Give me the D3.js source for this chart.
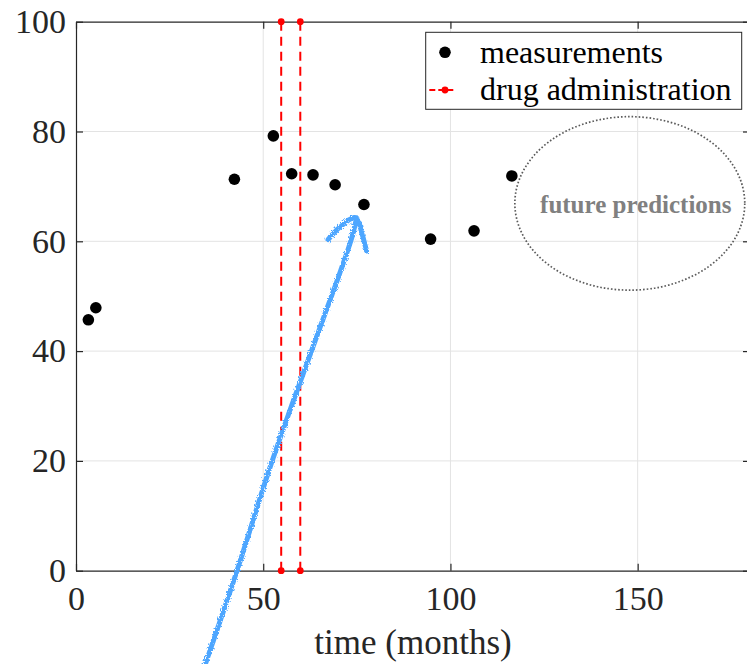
<!DOCTYPE html>
<html>
<head>
<meta charset="utf-8">
<script src="https://cdn.jsdelivr.net/npm/d3@7"></script>
<style>
  html, body { margin: 0; padding: 0; background: #fff; }
  svg text { font-family: "Liberation Serif", "Times New Roman", serif; fill: #262626; }
</style>
</head>
<body>
<div id="corpo"></div>
<script>
// measured values (months, score)
var measMonths = [3.3, 5.3, 42.3, 52.7, 57.6, 63.3, 69.2, 76.9, 94.7, 106.3, 116.4];
var measValues = [45.7, 47.9, 71.3, 79.2, 72.3, 72.1, 70.3, 66.7, 60.4, 61.9, 71.9];

// drug administration times
var drugMonths = [54.8, 59.9];

var xTicks = [0, 50, 100, 150];
var yTicks = [0, 20, 40, 60, 80, 100];

// hand drawn arrow (data coords)
var arrowShaft = [[34.3, -17.5], [43, 0], [52.4, 20], [64.9, 43.8], [70.6, 54.5], [73.8, 61], [74.9, 64.2]];
var arrowHead = [[67.3, 60.3], [70.5, 62.6], [74.7, 64.3], [76.4, 61.3], [77.6, 58.2]];

// "future predictions" ellipse
var ellipseCenter = [147.9, 66.9];
var ellipseRadius = [30.7, 15.8];

var width = 747, height = 664;
var svg = d3.select("#corpo").append("svg")
  .attr("width", width)
  .attr("height", height);

var x = d3.scaleLinear().domain([0, 180]).range([76, 750]);
var y = d3.scaleLinear().domain([0, 100]).range([570.7, 21.7]);

var axisColor = "#262626";
var tickFont = 34,   // tick labels
    labelFont = 35,  // axis label
    legFont = 32;    // legend

/* grid */
var grid = svg.append("g");
grid.selectAll(".gx").data(xTicks.slice(1)).enter().append("line")
  .attr("x1", function(d) { return x(d); }).attr("x2", function(d) { return x(d); })
  .attr("y1", y(0)).attr("y2", y(100))
  .attr("stroke", "#e3e3e3").attr("stroke-width", 1);
grid.selectAll(".gy").data(yTicks.slice(1, -1)).enter().append("line")
  .attr("x1", x(0)).attr("x2", x(180))
  .attr("y1", function(d) { return y(d); }).attr("y2", function(d) { return y(d); })
  .attr("stroke", "#e3e3e3").attr("stroke-width", 1);

/* axes (box with inward ticks) */
var xAxis = svg.append("g")
  .attr("transform", "translate(0," + y(0) + ")")
  .call(d3.axisBottom(x).tickValues(xTicks).tickSizeInner(-7).tickSizeOuter(0).tickPadding(16));
var xTop = svg.append("g")
  .attr("transform", "translate(0," + y(100) + ")")
  .call(d3.axisTop(x).tickValues(xTicks).tickSizeInner(-7).tickSizeOuter(0).tickFormat(""));
var yAxis = svg.append("g")
  .attr("transform", "translate(" + x(0) + ",0)")
  .call(d3.axisLeft(y).tickValues(yTicks).tickSizeInner(-7).tickSizeOuter(0).tickPadding(10));
var yRight = svg.append("g")
  .attr("transform", "translate(" + x(180) + ",0)")
  .call(d3.axisRight(y).tickValues(yTicks).tickSizeInner(-7).tickSizeOuter(0).tickFormat(""));

[xAxis, xTop, yAxis, yRight].forEach(function(a) {
  a.select(".domain").attr("stroke", axisColor).attr("stroke-width", 1.2);
  a.selectAll(".tick line").attr("stroke", axisColor).attr("stroke-width", 1.2);
  a.selectAll(".tick text")
    .attr("fill", axisColor)
    .style("font-size", tickFont + "px")
    .style("font-family", "'Liberation Serif', 'Times New Roman', serif");
});
xAxis.selectAll(".tick text").attr("dy", "0.68em");

svg.append("text")
  .attr("x", x(90))
  .attr("y", 654)
  .attr("text-anchor", "middle")
  .style("font-size", labelFont + "px")
  .text("time (months)");

/* drug administration lines */
var drug = svg.append("g");
drug.selectAll("line").data(drugMonths).enter().append("line")
  .attr("x1", function(d) { return x(d); }).attr("x2", function(d) { return x(d); })
  .attr("y1", y(0)).attr("y2", y(100))
  .attr("stroke", "#ff0000").attr("stroke-width", 2)
  .attr("stroke-dasharray", "9,6");
drugMonths.forEach(function(m) {
  [0, 100].forEach(function(v) {
    drug.append("circle").attr("cx", x(m)).attr("cy", y(v)).attr("r", 3.4).attr("fill", "#ff0000");
  });
});

/* measurements */
svg.append("g").selectAll("circle").data(measMonths).enter().append("circle")
  .attr("cx", function(d) { return x(d); })
  .attr("cy", function(d, i) { return y(measValues[i]); })
  .attr("r", 5.8)
  .attr("fill", "#000");

/* ellipse annotation */
svg.append("ellipse")
  .attr("cx", x(ellipseCenter[0])).attr("cy", y(ellipseCenter[1]))
  .attr("rx", x(ellipseRadius[0]) - x(0)).attr("ry", y(0) - y(ellipseRadius[1]))
  .attr("fill", "none").attr("stroke", "#5a5a5a").attr("stroke-width", 1.7)
  .attr("stroke-dasharray", "1.6,2");
svg.append("text")
  .attr("x", x(ellipseCenter[0]) + 6)
  .attr("y", 213.3)
  .attr("text-anchor", "middle")
  .attr("font-weight", "bold")
  .style("font-size", "25px")
  .style("fill", "#808080")
  .text("future predictions");

/* hand drawn arrow */
var defs = svg.append("defs");
var rough = defs.append("filter").attr("id", "rough")
  .attr("x", "-20%").attr("y", "-20%").attr("width", "140%").attr("height", "140%");
rough.append("feTurbulence").attr("type", "fractalNoise").attr("baseFrequency", 0.7).attr("numOctaves", 2).attr("result", "n");
rough.append("feDisplacementMap").attr("in", "SourceGraphic").attr("in2", "n").attr("scale", 4);

var line = d3.line()
  .x(function(d) { return x(d[0]); })
  .y(function(d) { return y(d[1]); })
  .curve(d3.curveCatmullRom);

var arrow = svg.append("g").attr("filter", "url(#rough)");
[arrowShaft, arrowHead].forEach(function(pts) {
  arrow.append("path")
    .attr("d", line(pts))
    .attr("fill", "none")
    .attr("stroke", "#4da6ff")
    .attr("stroke-width", 5)
    .attr("stroke-dasharray", "3,0.8")
    .attr("stroke-linecap", "round")
    .attr("stroke-linejoin", "round");
});

/* legend */
var leg = svg.append("g");
leg.append("rect")
  .attr("x", 425.7).attr("y", 32.3)
  .attr("width", 316).attr("height", 77)
  .attr("fill", "#fff").attr("stroke", "#262626").attr("stroke-width", 1);
leg.append("circle").attr("cx", 445).attr("cy", 52.3).attr("r", 5.8).attr("fill", "#000");
leg.append("line")
  .attr("x1", 429.3).attr("x2", 454).attr("y1", 90).attr("y2", 90)
  .attr("stroke", "#ff0000").attr("stroke-width", 2).attr("stroke-dasharray", "6,3");
leg.append("circle").attr("cx", 445).attr("cy", 90).attr("r", 3.4).attr("fill", "#ff0000");
leg.append("text").attr("x", 480).attr("y", 63.3).style("font-size", legFont + "px").style("fill", "#000").text("measurements");
leg.append("text").attr("x", 480).attr("y", 100).style("font-size", legFont + "px").style("fill", "#000").text("drug administration");
</script>
</body>
</html>
